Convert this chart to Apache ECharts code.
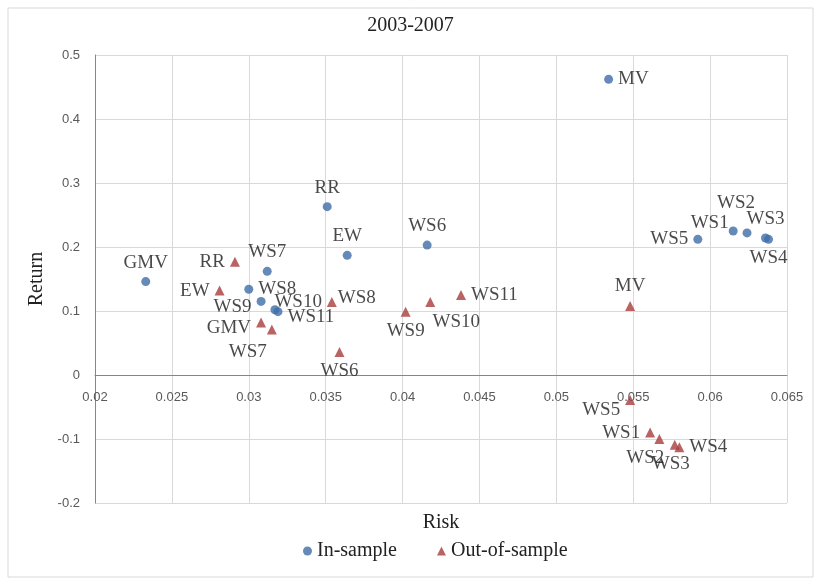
<!DOCTYPE html>
<html>
<head>
<meta charset="utf-8">
<script src="https://cdn.jsdelivr.net/npm/echarts@6/dist/echarts.min.js"></script>
<style>html,body{margin:0;padding:0;background:#fff;}#chart{width:821px;height:585px;}</style>
</head>
<body>
<div id="chart"></div>
<script>
// In-sample points
const inNames  = ['MV','GMV','RR','EW','WS6','WS7','WS8','WS9','WS10','WS11','WS5','WS1','WS2','WS3','WS4'];
const inRisk   = [0.0534,0.0233,0.0351,0.0364,0.0416,0.0312,0.0300,0.0308,0.0317,0.0319,0.0592,0.0615,0.0624,0.0636,0.0638];
const inReturn = [0.462,0.146,0.263,0.187,0.203,0.162,0.134,0.115,0.102,0.099,0.212,0.225,0.222,0.214,0.212];
// Out-of-sample points
const outNames  = ['RR','EW','GMV','WS7','WS8','WS6','WS9','WS10','WS11','MV','WS5','WS1','WS2','WS3','WS4'];
const outRisk   = [0.0291,0.0281,0.0308,0.0315,0.0354,0.0359,0.0402,0.0418,0.0438,0.0548,0.0548,0.0561,0.0567,0.0577,0.0580];
const outReturn = [0.177,0.132,0.082,0.071,0.114,0.036,0.099,0.114,0.125,0.108,-0.039,-0.090,-0.100,-0.109,-0.113];

// Label placement (layout only)
const inLabelPos = ['right','top','top','top','top','top','right','left','right','right','left','left','top','top','bottom'];
const inLabelOff = [[0,0],[0,0],[0,0],[0,0],[0,0],[0,0],[0,0],[0,6],[-10,-8],[0,5],[0,0],[5,-8],[-11,-11],[0,0],[0,0]];
const outLabelPos = ['left','left','left','bottom','right','bottom','bottom','bottom','right','top','left','left','bottom','bottom','right'];
const outLabelOff = [[0,0],[0,0],[0,5],[-24,3],[-4,-4],[0,0],[0,0],[26,0],[0,0],[0,0],[0,10],[0,0],[-14,0],[-4,0],[0,0]];

const serif = '"Liberation Serif","DejaVu Serif",serif';

function build(names, xs, ys, pos, off) {
  return names.map((n, i) => ({
    name: n,
    value: [xs[i], ys[i]],
    label: { position: pos[i], offset: off[i] }
  }));
}

const chart = echarts.init(document.getElementById('chart'));
chart.setOption({
  animation: false,
  backgroundColor: '#fff',
  graphic: [{
    type: 'rect', shape: { x: 8, y: 8, width: 805, height: 569 },
    style: { fill: 'none', stroke: '#d9d9d9', lineWidth: 1 }, silent: true
  }],
  title: {
    text: '2003-2007', left: 'center', top: 11,
    textStyle: { fontFamily: serif, fontSize: 20, fontWeight: 'normal', color: '#222' }
  },
  legend: {
    top: 536, left: 298, itemGap: 40, itemWidth: 9, itemHeight: 9,
    textStyle: { fontFamily: serif, fontSize: 20, color: '#222' },
    data: [{ name: 'In-sample', icon: 'circle' }, { name: 'Out-of-sample', icon: 'triangle' }]
  },
  grid: { left: 95, right: 34, top: 55, bottom: 82, outerBoundsMode: 'none', containLabel: false },
  xAxis: {
    type: 'value', min: 0.02, max: 0.065, interval: 0.005,
    name: 'Risk', nameLocation: 'middle', nameGap: 10,
    nameTextStyle: { fontFamily: serif, fontSize: 20, color: '#222', verticalAlign: 'top' },
    axisLine: { onZero: true, lineStyle: { color: '#868686', width: 1 } },
    axisTick: { show: false },
    axisLabel: { margin: -112, fontFamily: '"Liberation Sans",Arial,sans-serif', fontSize: 13, color: '#595959' },
    splitLine: { show: true, lineStyle: { color: '#d9d9d9' } }
  },
  yAxis: {
    type: 'value', min: -0.2, max: 0.5, interval: 0.1,
    name: 'Return', nameLocation: 'middle', nameGap: 47, nameRotate: 90,
    nameTextStyle: { fontFamily: serif, fontSize: 20, color: '#222' },
    axisLine: { show: true, onZero: false, lineStyle: { color: '#868686', width: 1 } },
    axisTick: { show: false },
    axisLabel: { margin: 15, fontFamily: '"Liberation Sans",Arial,sans-serif', fontSize: 13, color: '#595959' },
    splitLine: { show: true, lineStyle: { color: '#d9d9d9' } }
  },
  series: [
    {
      name: 'In-sample', type: 'scatter', symbol: 'circle', symbolSize: 9,
      itemStyle: { color: '#3f6da6' },
      label: { show: true, formatter: '{b}', fontFamily: serif, fontSize: 19, color: '#1a1a1a' },
      data: build(inNames, inRisk, inReturn, inLabelPos, inLabelOff)
    },
    {
      name: 'Out-of-sample', type: 'scatter', symbol: 'triangle', symbolSize: 10,
      itemStyle: { color: '#a83c3c' },
      label: { show: true, formatter: '{b}', fontFamily: serif, fontSize: 19, color: '#1a1a1a' },
      data: build(outNames, outRisk, outReturn, outLabelPos, outLabelOff)
    }
  ]
});
</script>
</body>
</html>
